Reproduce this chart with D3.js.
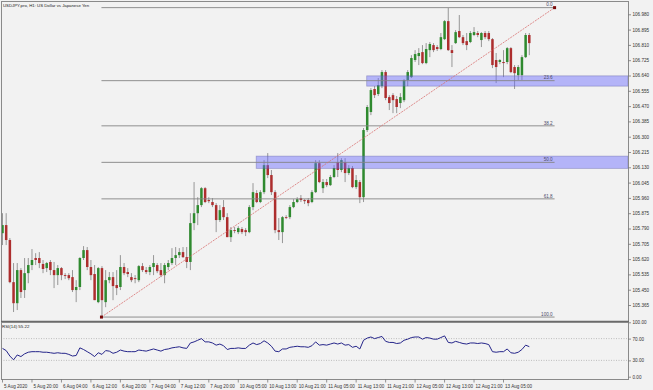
<!DOCTYPE html>
<html><head><meta charset="utf-8">
<script src="https://cdn.jsdelivr.net/npm/d3@7"></script>
<style>html,body{margin:0;padding:0;background:#f2f2f2;} svg{display:block;}</style>
</head><body><svg id="c" width="653" height="390"></svg>
<script>
const title = "USDJPY.pro, H1: US Dollar vs Japanese Yen";
const rsiTitle = "RSI(14) 55.22";
const openP = [105.764,105.809,105.726,105.492,105.375,105.559,105.448,105.542,105.587,105.626,
105.626,105.593,105.570,105.604,105.559,105.531,105.570,105.531,105.531,105.520,
105.448,105.465,105.626,105.670,105.576,105.537,105.381,105.570,105.381,105.503,
105.520,105.476,105.465,105.576,105.548,105.520,105.514,105.503,105.581,105.559,
105.548,105.576,105.587,105.559,105.531,105.576,105.598,105.626,105.642,105.659,
105.631,105.604,105.820,105.875,105.920,106.014,105.948,105.937,105.920,105.837,
105.909,105.853,105.742,105.781,105.770,105.787,105.781,105.770,105.909,105.987,
105.937,105.992,106.142,106.087,105.992,105.781,105.770,105.853,105.853,105.909,
105.937,105.959,105.948,105.948,105.937,105.992,106.153,106.014,106.048,106.031,
106.076,106.159,106.115,106.159,106.098,106.126,106.020,106.048,105.964,106.337,
106.437,106.565,106.537,106.581,106.659,106.520,106.531,106.509,106.487,106.503,
106.615,106.631,106.726,106.748,106.770,106.709,106.781,106.809,106.798,106.787,
106.842,106.942,106.781,106.820,106.887,106.853,106.831,106.826,106.865,106.876,
106.837,106.876,106.876,106.842,106.726,106.715,106.715,106.715,106.792,106.687,
106.642,106.642,106.742,106.865];
const highP = [105.875,105.875,105.737,105.598,105.598,105.570,105.626,105.626,105.676,105.653,
105.659,105.615,105.604,105.615,105.604,105.587,105.576,105.542,105.542,105.559,
105.503,105.631,105.692,105.687,105.615,105.587,105.576,105.581,105.559,105.548,
105.548,105.559,105.642,105.598,105.570,105.542,105.531,105.587,105.598,105.576,
105.587,105.642,105.598,105.598,105.598,105.615,105.681,105.687,105.681,105.687,
105.687,105.875,106.048,105.964,106.020,106.020,105.964,105.959,105.931,105.920,
105.948,105.875,105.798,105.798,105.803,105.798,105.792,105.920,106.042,106.003,
106.003,106.170,106.209,106.115,106.003,105.848,105.859,105.864,105.920,105.953,
105.964,105.976,105.953,105.959,106.003,106.170,106.170,106.065,106.065,106.087,
106.142,106.209,106.181,106.181,106.142,106.137,106.087,106.059,106.348,106.476,
106.570,106.581,106.626,106.670,106.670,106.531,106.542,106.526,106.542,106.620,
106.670,106.753,106.781,106.792,106.809,106.820,106.826,106.820,106.809,106.876,
106.948,107.015,106.809,106.892,106.976,106.865,106.876,106.887,106.909,106.887,
106.881,106.887,106.887,106.848,106.765,106.731,106.781,106.798,106.798,106.698,
106.698,106.753,106.876,106.876];
const lowP = [105.698,105.698,105.486,105.326,105.337,105.404,105.404,105.486,105.559,105.587,
105.570,105.542,105.548,105.531,105.459,105.476,105.503,105.509,105.503,105.437,
105.381,105.448,105.615,105.559,105.503,105.392,105.375,105.298,105.353,105.486,
105.392,105.420,105.448,105.531,105.520,105.492,105.486,105.492,105.548,105.537,
105.531,105.531,105.542,105.520,105.486,105.559,105.587,105.587,105.626,105.626,
105.570,105.559,105.781,105.809,105.909,105.931,105.931,105.909,105.770,105.826,
105.837,105.742,105.715,105.764,105.759,105.759,105.748,105.764,105.892,105.931,
105.931,105.981,106.070,105.976,105.764,105.726,105.709,105.842,105.842,105.903,
105.931,105.937,105.926,105.914,105.931,105.987,106.042,105.987,106.020,106.026,
106.070,106.076,106.103,106.048,106.087,106.014,106.009,105.931,105.937,106.326,
106.420,106.515,106.526,106.570,106.503,106.448,106.431,106.431,106.459,106.492,
106.581,106.626,106.715,106.698,106.703,106.703,106.742,106.770,106.776,106.781,
106.837,106.776,106.687,106.815,106.848,106.809,106.781,106.820,106.859,106.853,
106.798,106.842,106.831,106.681,106.598,106.703,106.631,106.703,106.653,106.565,
106.615,106.615,106.737,106.753];
const closeP = [105.809,105.726,105.492,105.375,105.559,105.437,105.542,105.587,105.615,105.615,
105.598,105.565,105.598,105.559,105.531,105.570,105.531,105.526,105.514,105.448,
105.465,105.626,105.670,105.576,105.531,105.392,105.570,105.392,105.503,105.520,
105.470,105.459,105.576,105.542,105.537,105.503,105.509,105.581,105.559,105.548,
105.576,105.598,105.553,105.531,105.587,105.598,105.626,105.642,105.659,105.631,
105.604,105.820,105.875,105.920,106.014,105.937,105.942,105.920,105.837,105.892,
105.853,105.742,105.781,105.776,105.792,105.770,105.770,105.909,105.992,105.937,
105.992,106.142,106.087,105.992,105.781,105.770,105.853,105.848,105.909,105.937,
105.953,105.948,105.942,105.931,105.992,106.153,106.048,106.048,106.031,106.076,
106.126,106.115,106.170,106.098,106.126,106.020,106.059,105.964,106.337,106.465,
106.559,106.531,106.587,106.659,106.515,106.487,106.503,106.465,106.520,106.615,
106.659,106.737,106.759,106.765,106.709,106.787,106.815,106.781,106.787,106.853,
106.942,106.781,106.765,106.881,106.853,106.820,106.809,106.876,106.881,106.865,
106.876,106.853,106.842,106.698,106.687,106.726,106.709,106.792,106.659,106.653,
106.687,106.742,106.865,106.820];
const rsiValues = [52,48,38,31,40,37,42,45,46,46,
46,45,45,44,43,44,43,43,41,38,
39,53,50,46,42,37,44,41,48,47,
43,45,49,47,46,46,46,49,48,47,
49,51,49,47,50,51,53,54,55,53,
52,62,64,67,70,64,64,62,58,60,
57,50,52,52,53,52,52,58,62,59,
61,66,62,56,47,46,51,51,54,55,
56,55,55,54,57,64,58,59,58,60,
62,60,62,58,59,54,56,51,67,71,
73,70,72,74,65,63,63,61,62,67,
69,72,73,73,69,72,71,69,69,72,
75,63,62,65,63,61,60,62,62,61,
62,61,59,46,45,46,46,51,44,43,
45,50,58,55.22];
const priceTicks = [106.980,106.895,106.810,106.725,106.640,106.555,106.470,106.385,106.300,106.215,
106.130,106.045,105.960,105.875,105.790,105.705,105.620,105.535,105.450,105.365];
const rsiTicks = [100,70,30,0];
const rsiLevels = [70,30];
const timeTickBars = [0,8,16,24,32,40,48,56,64,72,80,88,96,104,112,120,128,136];
const timeTickLabels = ["5 Aug 2020","5 Aug 20:00","6 Aug 04:00","6 Aug 12:00","6 Aug 20:00","7 Aug 04:00",
"7 Aug 12:00","7 Aug 20:00","10 Aug 05:00","10 Aug 13:00","10 Aug 21:00","11 Aug 05:00","11 Aug 13:00",
"11 Aug 21:00","12 Aug 05:00","12 Aug 13:00","12 Aug 21:00","13 Aug 05:00"];
const fibLevels = [0, 23.6, 38.2, 50, 61.8, 100];
const fibLabels = ["0.0","23.6","38.2","50.0","61.8","100.0"];
const fibStartBar = 27, fibLow = 105.298, fibEndBar = 150, fibHigh = 107.017;
const zoneStartBars = [99, 69];
const zoneTops = [106.638, 106.192];
const zoneBottoms = [106.581, 106.124];

const svg = d3.select("#c");
const W = 653, H = 390;
const L = 1, R = 628, mainTop = 1, mainBot = 321, rsiTop = 322, rsiBot = 379;
const font = "'Liberation Sans', Arial, sans-serif";

svg.append("rect").attr("width", W).attr("height", H).attr("fill", "#f2f2f2");

const x = d3.scaleLinear().domain([0, 143]).range([2, 528.8]);
const y = d3.scaleLinear().domain([105.365, 106.980]).range([305, 14.3]);
const yR = d3.scaleLinear().domain([0, 100]).range([376.7, 322.3]);

const defs = svg.append("defs");
defs.append("clipPath").attr("id", "mainClip").append("rect")
  .attr("x", L).attr("y", mainTop).attr("width", R - L).attr("height", mainBot - mainTop);
defs.append("clipPath").attr("id", "rsiClip").append("rect")
  .attr("x", L).attr("y", rsiTop).attr("width", R - L).attr("height", rsiBot - rsiTop);

const main = svg.append("g").attr("clip-path", "url(#mainClip)");
const data = openP.map((o, i) => ({i, o, h: highP[i], l: lowP[i], c: closeP[i]}));

main.append("g").selectAll("line").data(data).join("line")
  .attr("x1", d => x(d.i) + 0.5).attr("x2", d => x(d.i) + 0.5)
  .attr("y1", d => y(d.h)).attr("y2", d => y(d.l))
  .attr("stroke", "#8c8c8c").attr("stroke-width", 0.9);
main.append("g").selectAll("rect").data(data).join("rect")
  .attr("x", d => x(d.i) + 0.5 - 1.25).attr("width", 2.5)
  .attr("y", d => y(Math.max(d.o, d.c)))
  .attr("height", d => Math.max(0.8, Math.abs(y(d.o) - y(d.c))))
  .attr("fill", d => d.c >= d.o ? "#2f8a2f" : "#ad2e2e");

const zones = zoneStartBars.map((b, k) => ({b, t: zoneTops[k], bt: zoneBottoms[k]}));
main.append("g").selectAll("rect").data(zones).join("rect")
  .attr("x", d => x(d.b)).attr("width", d => R - x(d.b))
  .attr("y", d => y(d.t)).attr("height", d => y(d.bt) - y(d.t))
  .attr("fill", "rgba(105,105,255,0.45)")
  .attr("stroke", "rgba(90,90,160,0.45)").attr("stroke-width", 0.8);

const fibPrice = lv => fibHigh - (fibHigh - fibLow) * lv / 100;
const fg = main.append("g");
fg.selectAll("line").data(fibLevels).join("line")
  .attr("x1", x(fibStartBar)).attr("x2", x(fibEndBar))
  .attr("y1", d => y(fibPrice(d))).attr("y2", d => y(fibPrice(d)))
  .attr("stroke", "#858585").attr("stroke-width", 0.9);
fg.selectAll("text").data(fibLevels).join("text")
  .attr("x", x(fibEndBar) - 2).attr("y", d => y(fibPrice(d)) - 1.3)
  .attr("text-anchor", "end").attr("font-family", font).attr("font-size", 4.6)
  .attr("fill", "#4a4a6a").text((d, k) => fibLabels[k]);
fg.append("line")
  .attr("x1", x(fibStartBar)).attr("y1", y(fibLow))
  .attr("x2", x(fibEndBar)).attr("y2", y(fibHigh))
  .attr("stroke", "#d87070").attr("stroke-width", 0.8).attr("stroke-dasharray", "2,1");
fg.selectAll("rect.pt").data([[fibStartBar, fibLow], [fibEndBar, fibHigh]]).join("rect")
  .attr("class", "pt").attr("x", d => x(d[0]) - 1.5).attr("y", d => y(d[1]) - 1.5)
  .attr("width", 3).attr("height", 3).attr("fill", "#7a0a0a");

svg.append("text").attr("x", 3).attr("y", 7).attr("font-family", font)
  .attr("font-size", 4.3).attr("fill", "#222").text(title);

const rg = svg.append("g").attr("clip-path", "url(#rsiClip)");
rg.selectAll("line").data(rsiLevels).join("line")
  .attr("x1", L).attr("x2", R).attr("y1", d => yR(d)).attr("y2", d => yR(d))
  .attr("stroke", "#9a9a9a").attr("stroke-width", 0.6).attr("stroke-dasharray", "1,1.5");
rg.append("path").datum(rsiValues)
  .attr("d", d3.line().x((d, i) => x(i) + 0.5).y(d => yR(d)))
  .attr("fill", "none").attr("stroke", "#25258a").attr("stroke-width", 1);
svg.append("text").attr("x", 2).attr("y", 327.5).attr("font-family", font)
  .attr("font-size", 4.4).attr("fill", "#222").text(rsiTitle);

svg.append("rect").attr("x", L + 0.5).attr("y", mainTop + 0.5).attr("width", R - L).attr("height", mainBot - mainTop)
  .attr("fill", "none").attr("stroke", "#8a8a8a").attr("stroke-width", 1);
svg.append("line").attr("x1", L).attr("x2", R + 1).attr("y1", mainBot + 0.5).attr("y2", mainBot + 0.5)
  .attr("stroke", "#6a6a6a").attr("stroke-width", 1.6);
svg.append("rect").attr("x", L + 0.5).attr("y", rsiTop + 0.5).attr("width", R - L).attr("height", rsiBot - rsiTop)
  .attr("fill", "none").attr("stroke", "#8a8a8a").attr("stroke-width", 1);

function styleAxis(g) {
  g.select(".domain").remove();
  g.selectAll("line").attr("stroke", "#666").attr("stroke-width", 0.7);
  g.selectAll("text").attr("font-family", font).attr("font-size", 4.6).attr("fill", "#333");
}
svg.append("g").attr("transform", `translate(${R + 0.5},0)`)
  .call(d3.axisRight(y).tickValues(priceTicks).tickFormat(d3.format(".3f")).tickSize(2.5).tickPadding(1.5))
  .call(styleAxis);
svg.append("g").attr("transform", `translate(${R + 0.5},0)`)
  .call(d3.axisRight(yR).tickValues(rsiTicks).tickFormat(d3.format(".2f")).tickSize(2.5).tickPadding(1.5))
  .call(styleAxis);
const xa = svg.append("g").attr("transform", `translate(0,${rsiBot + 0.5})`)
  .call(d3.axisBottom(x).tickValues(timeTickBars).tickFormat((d, k) => timeTickLabels[k]).tickSize(3).tickPadding(1.5))
  .call(styleAxis);
xa.selectAll("text").attr("text-anchor", "start").attr("dx", "1.5").attr("dy", "0.9em");
</script></body></html>
